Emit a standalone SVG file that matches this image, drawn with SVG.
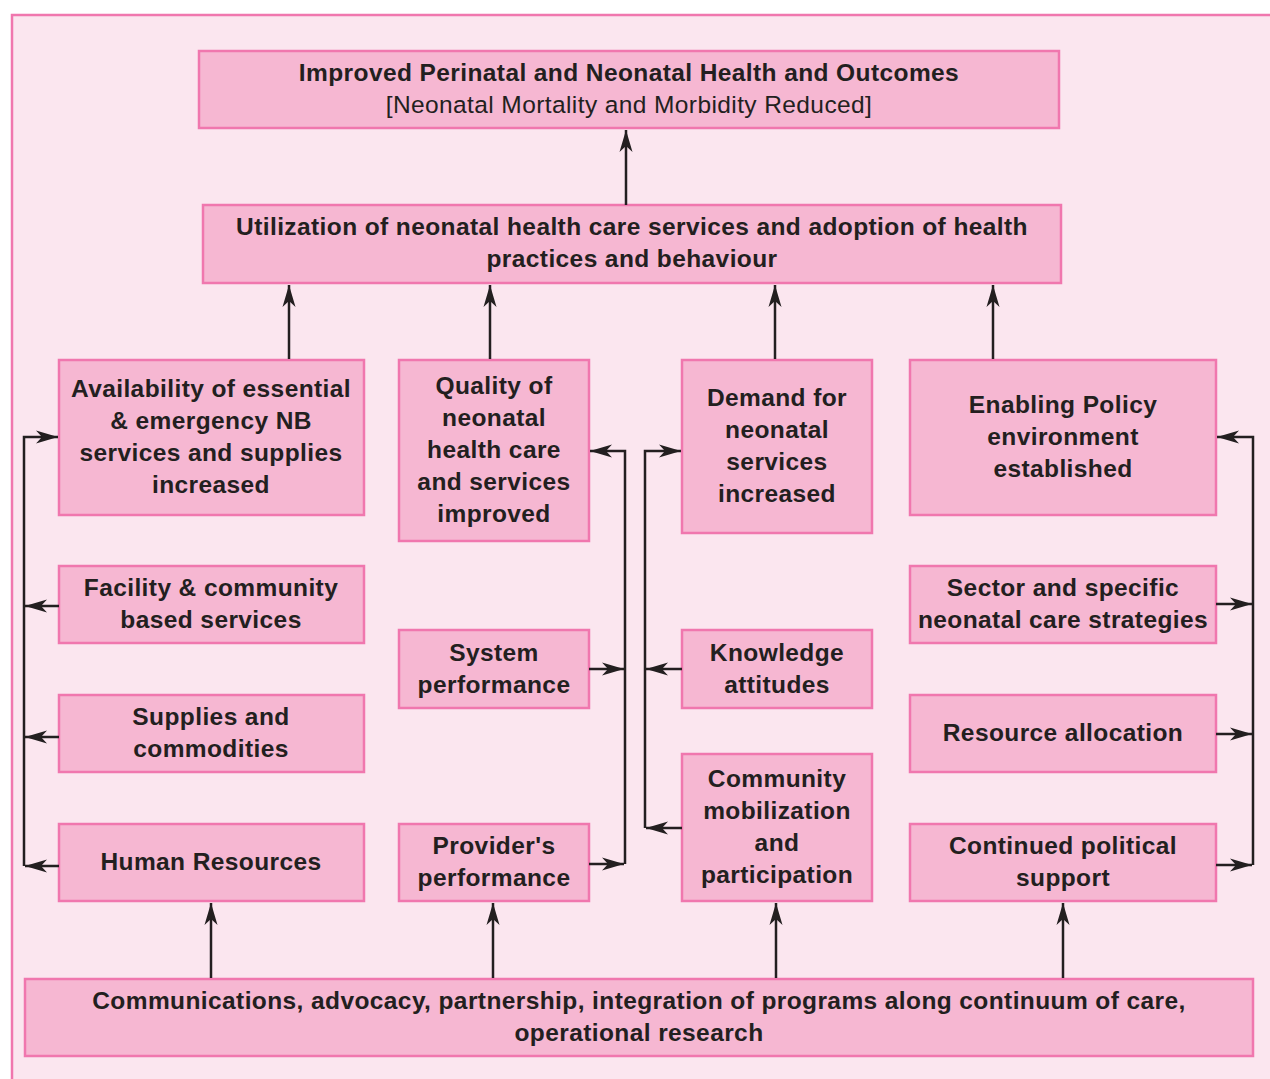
<svg xmlns="http://www.w3.org/2000/svg" width="1270" height="1079" viewBox="0 0 1270 1079">
<style>
.box{fill:#F6B7D2;stroke:#F077AE;stroke-width:2.5}
.t{font-family:"Liberation Sans",Arial,sans-serif;font-size:24.5px;letter-spacing:0.4px;font-weight:bold;fill:#231F20;text-anchor:middle;dominant-baseline:central}
.n{font-weight:normal}
.c{fill:none;stroke:#231F20;stroke-width:2.5}
</style>
<defs>
<marker id="a" markerUnits="userSpaceOnUse" markerWidth="24" markerHeight="14" refX="22" refY="7" orient="auto" viewBox="0 0 24 14">
<path d="M0,0.5 L22,7 L0,13.5 L6,7 z" fill="#231F20"/>
</marker>
</defs>
<rect x="12" y="15" width="1270" height="1080" fill="#FBE6EF" stroke="#F077AE" stroke-width="2.5"/>

<g id="n-top"><rect class="box" x="199" y="51" width="860" height="77"/>
<text class="t" x="629" y="72">Improved Perinatal and Neonatal Health and Outcomes</text>
<text class="t n" x="629" y="104">[Neonatal Mortality and Morbidity Reduced]</text></g>

<g id="n-util"><rect class="box" x="203" y="205" width="858" height="78"/>
<text class="t" x="632" y="226">Utilization of neonatal health care services and adoption of health</text>
<text class="t" x="632" y="258">practices and behaviour</text></g>

<g id="n-avail"><rect class="box" x="59" y="360" width="305" height="155"/>
<text class="t" x="211" y="388">Availability of essential</text>
<text class="t" x="211" y="420">&amp; emergency NB</text>
<text class="t" x="211" y="452">services and supplies</text>
<text class="t" x="211" y="484">increased</text></g>

<g id="n-quality"><rect class="box" x="399" y="360" width="190" height="181"/>
<text class="t" x="494" y="385">Quality of</text>
<text class="t" x="494" y="417">neonatal</text>
<text class="t" x="494" y="449">health care</text>
<text class="t" x="494" y="481">and services</text>
<text class="t" x="494" y="513">improved</text></g>

<g id="n-demand"><rect class="box" x="682" y="360" width="190" height="173"/>
<text class="t" x="777" y="397">Demand for</text>
<text class="t" x="777" y="429">neonatal</text>
<text class="t" x="777" y="461">services</text>
<text class="t" x="777" y="493">increased</text></g>

<g id="n-enabling"><rect class="box" x="910" y="360" width="306" height="155"/>
<text class="t" x="1063" y="404">Enabling Policy</text>
<text class="t" x="1063" y="436">environment</text>
<text class="t" x="1063" y="468">established</text></g>

<g id="n-facility"><rect class="box" x="59" y="566" width="305" height="77"/>
<text class="t" x="211" y="587">Facility &amp; community</text>
<text class="t" x="211" y="619">based services</text></g>

<g id="n-supplies"><rect class="box" x="59" y="695" width="305" height="77"/>
<text class="t" x="211" y="716">Supplies and</text>
<text class="t" x="211" y="748">commodities</text></g>

<g id="n-hr"><rect class="box" x="59" y="824" width="305" height="77"/>
<text class="t" x="211" y="861">Human Resources</text></g>

<g id="n-system"><rect class="box" x="399" y="630" width="190" height="78"/>
<text class="t" x="494" y="652">System</text>
<text class="t" x="494" y="684">performance</text></g>

<g id="n-provider"><rect class="box" x="399" y="824" width="190" height="77"/>
<text class="t" x="494" y="845">Provider's</text>
<text class="t" x="494" y="877">performance</text></g>

<g id="n-knowledge"><rect class="box" x="682" y="630" width="190" height="78"/>
<text class="t" x="777" y="652">Knowledge</text>
<text class="t" x="777" y="684">attitudes</text></g>

<g id="n-community"><rect class="box" x="682" y="754" width="190" height="147"/>
<text class="t" x="777" y="778">Community</text>
<text class="t" x="777" y="810">mobilization</text>
<text class="t" x="777" y="842">and</text>
<text class="t" x="777" y="874">participation</text></g>

<g id="n-sector"><rect class="box" x="910" y="566" width="306" height="77"/>
<text class="t" x="1063" y="587">Sector and specific</text>
<text class="t" x="1063" y="619">neonatal care strategies</text></g>

<g id="n-resource"><rect class="box" x="910" y="695" width="306" height="77"/>
<text class="t" x="1063" y="732">Resource allocation</text></g>

<g id="n-political"><rect class="box" x="910" y="824" width="306" height="77"/>
<text class="t" x="1063" y="845">Continued political</text>
<text class="t" x="1063" y="877">support</text></g>

<g id="n-bottom"><rect class="box" x="25" y="979" width="1228" height="77"/>
<text class="t" x="639" y="1000">Communications, advocacy, partnership, integration of programs along continuum of care,</text>
<text class="t" x="639" y="1032">operational research</text></g>

<g id="connectors">
<line class="c" x1="626" y1="205" x2="626" y2="130" marker-end="url(#a)"/>
<line class="c" x1="289" y1="359" x2="289" y2="285" marker-end="url(#a)"/>
<line class="c" x1="490" y1="359" x2="490" y2="285" marker-end="url(#a)"/>
<line class="c" x1="775" y1="359" x2="775" y2="285" marker-end="url(#a)"/>
<line class="c" x1="993" y1="359" x2="993" y2="285" marker-end="url(#a)"/>

<polyline class="c" points="24,866 24,437 58,437" marker-end="url(#a)"/>
<line class="c" x1="59" y1="606" x2="25" y2="606" marker-end="url(#a)"/>
<line class="c" x1="59" y1="737" x2="25" y2="737" marker-end="url(#a)"/>
<line class="c" x1="59" y1="866" x2="25" y2="866" marker-end="url(#a)"/>

<polyline class="c" points="625,864 625,451 590,451" marker-end="url(#a)"/>
<line class="c" x1="589" y1="669" x2="624" y2="669" marker-end="url(#a)"/>
<line class="c" x1="589" y1="864" x2="624" y2="864" marker-end="url(#a)"/>

<polyline class="c" points="645,828 645,451 681,451" marker-end="url(#a)"/>
<line class="c" x1="682" y1="669" x2="646" y2="669" marker-end="url(#a)"/>
<line class="c" x1="682" y1="828" x2="646" y2="828" marker-end="url(#a)"/>

<polyline class="c" points="1253,865 1253,437 1217,437" marker-end="url(#a)"/>
<line class="c" x1="1216" y1="604" x2="1252" y2="604" marker-end="url(#a)"/>
<line class="c" x1="1216" y1="734" x2="1252" y2="734" marker-end="url(#a)"/>
<line class="c" x1="1216" y1="865" x2="1252" y2="865" marker-end="url(#a)"/>

<line class="c" x1="211" y1="978" x2="211" y2="903" marker-end="url(#a)"/>
<line class="c" x1="493" y1="978" x2="493" y2="903" marker-end="url(#a)"/>
<line class="c" x1="776" y1="978" x2="776" y2="903" marker-end="url(#a)"/>
<line class="c" x1="1063" y1="978" x2="1063" y2="903" marker-end="url(#a)"/>
</g>
</svg>
